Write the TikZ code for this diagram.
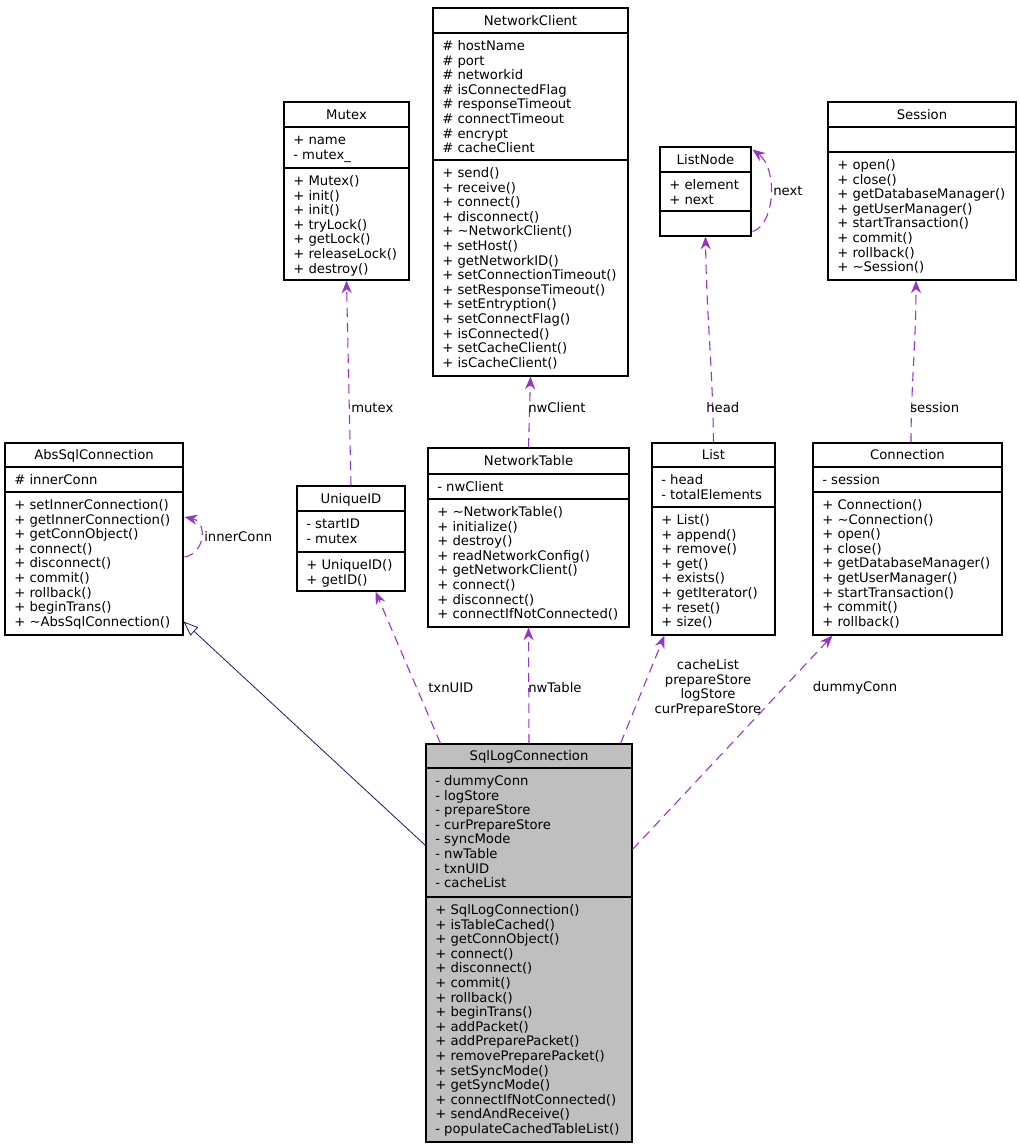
\documentclass[tikz,border=0pt]{standalone}
\usepackage{fontspec}
\setmainfont{DejaVu Sans}
\usetikzlibrary{arrows.meta,calc,fit}
\definecolor{usecol}{HTML}{9A32CD}
\definecolor{inhcol}{HTML}{191970}
\definecolor{sqlfill}{HTML}{BFBFBF}
\newcommand\umlfont{\fontsize{9.9pt}{10.95pt}\selectfont}
\newcommand\mlist[1]{\begin{tabular}[t]{@{}l@{}}#1\end{tabular}}
\tikzset{
  classbox/.style={draw=black, line width=0.8pt, inner sep=0pt},
  member/.style={anchor=base west, inner sep=0pt, font=\umlfont},
  ctitle/.style={anchor=base, inner sep=0pt, font=\umlfont},
  elabel/.style={inner sep=0pt, font=\umlfont},
  uses/.style={draw=usecol, line width=0.8pt, dash pattern=on 7pt off 4.5pt,
    -{Stealth[length=9.5pt,width=7.5pt,inset=3pt]}},
  inherits/.style={draw=inhcol, line width=0.6pt,
    -{Triangle[open,length=11pt,width=8.5pt]}},
}
% [style] name x1 y1 x2 y2 div1 div2 title
\newcommand\umlclass[9][]{%
  \node[classbox,#1,fit={(#3,#4) (#5,#6)}] (#2) {};
  \draw[line width=0.8pt] (#3,#7) -- (#5,#7);
  \draw[line width=0.8pt] (#3,#8) -- (#5,#8);
  \node[ctitle] (#2-title) at ({(#3+#5)/2},{(#4+#7)/2+4.8}) {#9};
}
\begin{document}
\begin{tikzpicture}[x=0.75pt,y=-0.75pt]
\fill[white] (0,0) rectangle (1020,1147);
\useasboundingbox (0,0) rectangle (1020,1147);

% ---------------- classes ----------------
\umlclass{abs}{5}{443}{183}{635}{467}{492}{AbsSqlConnection}
\node[member] (abs-attr) at (14,484.5) {\mlist{\# innerConn}};
\node[member] (abs-meth) at (14,509.5) {\mlist{+ setInnerConnection()\\+ getInnerConnection()\\+ getConnObject()\\+ connect()\\+ disconnect()\\+ commit()\\+ rollback()\\+ beginTrans()\\+ \textasciitilde AbsSqlConnection()}};

\umlclass{mutex}{284}{102}{409}{280}{127}{168}{Mutex}
\node[member] (mutex-attr) at (293,144.5) {\mlist{+ name\\- mutex\_}};
\node[member] (mutex-meth) at (293,185.5) {\mlist{+ Mutex()\\+ init()\\+ init()\\+ tryLock()\\+ getLock()\\+ releaseLock()\\+ destroy()}};

\umlclass{nwc}{433}{8}{628}{376}{33}{160}{NetworkClient}
\node[member] (nwc-attr) at (442,50.5) {\mlist{\# hostName\\\# port\\\# networkid\\\# isConnectedFlag\\\# responseTimeout\\\# connectTimeout\\\# encrypt\\\# cacheClient}};
\node[member] (nwc-meth) at (442,177.5) {\mlist{+ send()\\+ receive()\\+ connect()\\+ disconnect()\\+ \textasciitilde NetworkClient()\\+ setHost()\\+ getNetworkID()\\+ setConnectionTimeout()\\+ setResponseTimeout()\\+ setEntryption()\\+ setConnectFlag()\\+ isConnected()\\+ setCacheClient()\\+ isCacheClient()}};

\umlclass{listnode}{660}{147}{751}{236}{172}{211}{ListNode}
\node[member] (listnode-attr) at (669,189.5) {\mlist{+ element\\+ next}};

\umlclass{session}{828}{102}{1016}{280}{127}{152}{Session}
\node[member] (session-meth) at (837,169.5) {\mlist{+ open()\\+ close()\\+ getDatabaseManager()\\+ getUserManager()\\+ startTransaction()\\+ commit()\\+ rollback()\\+ \textasciitilde Session()}};

\umlclass{uid}{297}{486}{405}{591}{511}{552}{UniqueID}
\node[member] (uid-attr) at (306,528.5) {\mlist{- startID\\- mutex}};
\node[member] (uid-meth) at (306,569.5) {\mlist{+ UniqueID()\\+ getID()}};

\umlclass{nwt}{428}{448}{629}{627}{474}{499}{NetworkTable}
\node[member] (nwt-attr) at (437,491.5) {\mlist{- nwClient}};
\node[member] (nwt-meth) at (437,516.5) {\mlist{+ \textasciitilde NetworkTable()\\+ initialize()\\+ destroy()\\+ readNetworkConfig()\\+ getNetworkClient()\\+ connect()\\+ disconnect()\\+ connectIfNotConnected()}};

\umlclass{list}{652}{443}{775}{635}{467}{507}{List}
\node[member] (list-attr) at (661,484.5) {\mlist{- head\\- totalElements}};
\node[member] (list-meth) at (661,524.5) {\mlist{+ List()\\+ append()\\+ remove()\\+ get()\\+ exists()\\+ getIterator()\\+ reset()\\+ size()}};

\umlclass{conn}{813}{443}{1002}{635}{467}{492}{Connection}
\node[member] (conn-attr) at (822,484.5) {\mlist{- session}};
\node[member] (conn-meth) at (822,509.5) {\mlist{+ Connection()\\+ \textasciitilde Connection()\\+ open()\\+ close()\\+ getDatabaseManager()\\+ getUserManager()\\+ startTransaction()\\+ commit()\\+ rollback()}};

\umlclass[fill=sqlfill]{sql}{426}{744}{632}{1142}{768}{897}{SqlLogConnection}
\node[member] (sql-attr) at (435,785.5) {\mlist{- dummyConn\\- logStore\\- prepareStore\\- curPrepareStore\\- syncMode\\- nwTable\\- txnUID\\- cacheList}};
\node[member] (sql-meth) at (435,914.5) {\mlist{+ SqlLogConnection()\\+ isTableCached()\\+ getConnObject()\\+ connect()\\+ disconnect()\\+ commit()\\+ rollback()\\+ beginTrans()\\+ addPacket()\\+ addPreparePacket()\\+ removePreparePacket()\\+ setSyncMode()\\+ getSyncMode()\\+ connectIfNotConnected()\\+ sendAndReceive()\\- populateCachedTableList()}};

% ---------------- connectors ----------------
\draw[uses] (uid.north) -- (mutex.south);
\draw[uses] (nwt.north) -- (nwc.south);
\draw[uses] (list.north) .. controls ($(list.north)+(-1,-80)$) and ($(listnode.south)+(1,80)$) .. (listnode.south);
\draw[uses] ($(listnode.south east)+(1,-5)$) .. controls ($(listnode.south east)+(24,-12)$) and ($(listnode.north east)+(26,22)$) .. ($(listnode.north east)+(1,3)$);
\draw[uses] ($(conn.north)+(3.5,0)$) .. controls ($(conn.north)+(3.5,-55)$) and ($(session.south)+(-6,60)$) .. ($(session.south)+(-6,0)$);
\draw[uses] ($(abs.east)+(1,18)$) .. controls ($(abs.east)+(22,14)$) and ($(abs.east)+(24,-17)$) .. ($(abs.east)+(1,-22)$);
\draw[inherits] ($(sql.north west)+(0,102)$) -- ($(abs.south east)+(0,-14)$);
\draw[uses] ($(sql.north west)+(15,0)$) -- ($(uid.south east)+(-30,0)$);
\draw[uses] (sql.north) -- (nwt.south);
\draw[uses] ($(sql.north east)+(-12,0)$) -- ($(list.south west)+(13,0)$);
\draw[uses] ($(sql.north east)+(0,106)$) -- ($(conn.south west)+(20,0)$);

% ---------------- labels ----------------
\node[elabel, anchor=west] (l-mutex) at (351,408) {mutex};
\node[elabel, anchor=west] (l-nwclient) at (528,408) {nwClient};
\node[elabel, anchor=west] (l-head) at (706,408) {head};
\node[elabel, anchor=west] (l-session) at (910,408) {session};
\node[elabel, anchor=west] (l-next) at (773,191) {next};
\node[elabel, anchor=west] (l-inner) at (204,537) {innerConn};
\node[elabel, anchor=west] (l-txnuid) at (428,688) {txnUID};
\node[elabel, anchor=west] (l-nwtable) at (528,688) {nwTable};
\node[elabel, align=center, font=\umlfont] (l-list) at (708,688) {cacheList\\prepareStore\\logStore\\curPrepareStore};
\node[elabel, anchor=center] (l-dummy) at (855,688) {dummyConn};
\end{tikzpicture}
\end{document}
